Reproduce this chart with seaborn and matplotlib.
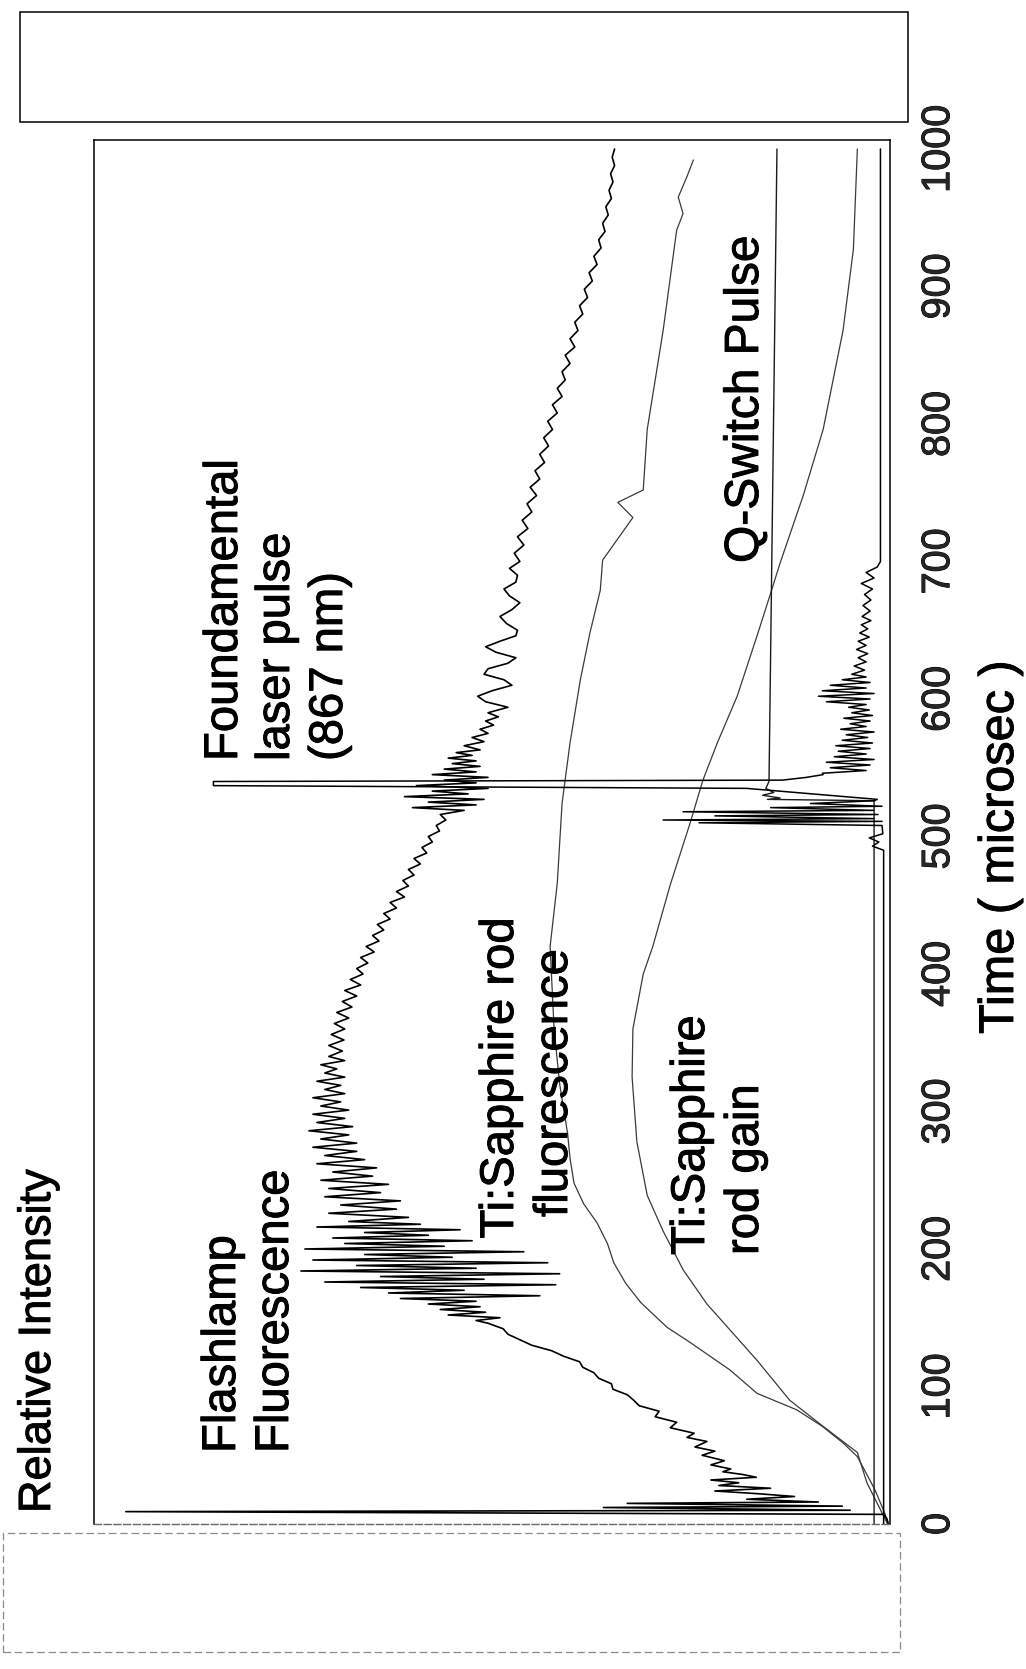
import matplotlib
matplotlib.use("Agg")
import matplotlib.pyplot as plt
import matplotlib.patheffects as pe
from matplotlib.patches import Rectangle
import seaborn as sns

# ---------------------------------------------------------------------------
# Time axis (microseconds) and trace data, intensity in relative units (0-100)
# ---------------------------------------------------------------------------
time_ticks = [0, 100, 200, 300, 400, 500, 600, 700, 800, 900, 1000]

flash_time = [
    0, 4, 7, 9, 10, 12, 13, 15, 16, 18, 20, 22, 24, 26, 28, 30, 32, 34, 36, 38,
    40, 43, 46, 50, 53, 56, 60, 63, 66, 70, 74, 78, 82, 86, 90, 94, 98, 102, 106,
    110, 114, 118, 122, 126, 130, 134, 138, 142, 146, 148, 150, 152, 154, 156,
    158, 160, 162, 164, 166, 168, 170, 172, 174, 176, 178, 180, 182, 184, 186,
    188, 190, 192, 194, 196, 198, 200, 202, 204, 206, 208, 210, 212, 214, 216,
    218, 220, 223, 226, 229, 232, 235, 238, 241, 244, 247, 250, 253, 256, 259,
    262, 265, 268, 271, 274, 277, 280, 283, 286, 289, 292, 295, 298, 301, 304,
    307, 310, 313, 316, 319, 322, 325, 328, 331, 334, 337, 340, 344, 348, 352,
    356, 360, 364, 368, 372, 376, 380, 384, 388, 392, 396, 400, 404, 408, 412,
    416, 420, 424, 428, 432, 436, 440, 444, 448, 452, 456, 460, 464, 468, 472,
    476, 480, 484, 488, 492, 496, 500, 504, 508, 512, 516, 519, 521, 523, 525,
    527, 529, 531, 533, 535, 537, 539, 541, 543, 545, 547, 549, 551, 553, 555,
    557, 559, 561, 563, 566, 569, 572, 575, 578, 581, 584, 587, 590, 594, 598,
    602, 606, 610, 614, 618, 622, 626, 630, 634, 638, 642, 646, 650, 655, 660,
    665, 670, 675, 680, 685, 690, 695, 700, 706, 712, 718, 724, 730, 736, 742,
    748, 754, 760, 766, 772, 778, 784, 790, 796, 802, 808, 814, 820, 826, 832,
    838, 844, 850, 856, 862, 868, 874, 880, 886, 892, 898, 904, 910, 916, 922,
    928, 934, 940, 946, 952, 958, 964, 970, 976, 982, 988, 994, 1000,
]
flash_intensity = [
    0.2, 0.4, 0.8, 96.0, 5.0, 36.0, 6.0, 33.0, 9.0, 18.0, 12.0, 16.5, 22.0, 15.0,
    21.5, 19.0, 22.5, 16.8, 18.5, 21.0, 20.0, 22.5, 20.8, 23.6, 22.0, 24.5, 23.0,
    25.5, 24.6, 27.6, 26.8, 29.5, 29.0, 31.5, 32.2, 33.0, 34.8, 35.0, 36.6, 37.2,
    38.6, 39.0, 41.0, 42.5, 45.0, 46.5, 48.0, 48.6, 50.5, 52.0, 49.0, 55.5, 50.8,
    56.5, 51.5, 58.0, 52.0, 61.5, 44.0, 63.0, 53.5, 66.5, 42.0, 71.0, 51.0, 64.0,
    41.5, 74.0, 52.0, 67.0, 43.0, 72.5, 55.0, 66.0, 46.0, 73.5, 56.0, 68.5, 52.5,
    70.0, 58.0, 66.0, 54.0, 72.0, 59.0, 68.0, 60.5, 70.5, 62.0, 69.0, 61.5, 71.0,
    64.0, 70.5, 63.0, 71.5, 65.0, 70.0, 64.5, 72.0, 66.0, 71.0, 67.0, 72.5, 67.0,
    71.5, 68.0, 73.0, 67.5, 72.0, 68.5, 72.5, 68.0, 71.5, 69.0, 72.5, 68.5, 71.0,
    69.0, 72.0, 68.5, 71.0, 69.5, 71.5, 68.5, 70.5, 68.8, 70.5, 68.6, 70.2, 68.5,
    69.8, 68.0, 69.5, 67.6, 68.8, 67.0, 68.5, 66.5, 67.8, 66.2, 67.0, 65.6, 66.5,
    64.8, 65.8, 64.2, 65.0, 63.6, 64.4, 62.8, 63.6, 62.0, 62.8, 61.0, 62.0, 60.5,
    61.2, 59.8, 60.5, 59.0, 59.8, 58.2, 58.8, 57.5, 58.0, 56.6, 57.0, 55.8, 56.5,
    53.5, 60.0, 52.0, 58.0, 51.0, 61.0, 53.0, 57.5, 50.5, 59.5, 52.0, 56.0, 50.5,
    57.5, 52.0, 56.0, 51.5, 55.0, 52.0, 55.5, 52.5, 54.5, 51.5, 53.5, 51.0, 52.5,
    50.5, 51.5, 49.8, 50.8, 49.2, 50.5, 48.0, 50.8, 51.8, 50.0, 47.5, 48.5, 51.0,
    50.5, 48.0, 47.0, 49.5, 50.8, 49.0, 47.0, 46.8, 48.2, 49.0, 47.5, 46.5, 47.8,
    48.5, 47.0, 46.8, 47.8, 46.5, 47.2, 46.0, 46.8, 45.5, 46.2, 45.0, 45.6, 44.4,
    45.2, 44.0, 44.6, 43.4, 44.0, 42.9, 43.5, 42.4, 43.0, 41.8, 42.4, 41.2, 41.8,
    40.8, 41.2, 40.2, 40.8, 39.6, 40.2, 39.2, 39.6, 38.6, 39.0, 38.0, 38.4, 37.4,
    37.8, 36.8, 37.2, 36.3, 36.6, 35.8, 36.1, 35.4, 35.7, 35.0, 35.3, 34.8, 35.1,
    34.6, 34.9, 34.6,
]

laser_time = [
    0, 490, 493, 496, 499, 502, 508, 510, 511, 512, 513, 515, 516, 518, 519, 521,
    522, 524, 526, 527, 535, 537, 540, 541, 543, 545, 546, 548, 550, 552, 554,
    556, 558, 560, 562, 564, 566, 568, 570, 572, 574, 576, 578, 580, 582, 584,
    586, 588, 590, 592, 594, 596, 598, 600, 602, 604, 606, 608, 610, 612, 614,
    616, 618, 621, 624, 627, 630, 633, 636, 639, 642, 645, 648, 651, 654, 657,
    660, 664, 668, 672, 676, 680, 684, 688, 692, 696, 700, 1000,
]
laser_intensity = [
    0.8, 0.8, 2.2, 1.4, 2.6, 0.9, 1.0, 24.0, 1.0, 28.5, 2.0, 22.0, 1.5, 26.0,
    2.0, 15.0, 1.0, 10.0, 2.0, 1.6, 18.0, 85.0, 85.0, 13.5, 10.5, 8.4, 8.5, 3.0,
    7.5, 2.5, 8.0, 2.0, 7.0, 3.0, 6.5, 2.5, 6.8, 2.2, 6.0, 2.8, 5.5, 2.0, 6.2,
    3.0, 5.0, 2.5, 5.8, 2.2, 4.8, 2.6, 5.2, 3.0, 8.0, 2.5, 9.0, 2.0, 8.5, 3.0,
    7.5, 2.5, 6.0, 3.0, 4.8, 3.2, 4.5, 3.0, 4.0, 2.8, 4.2, 3.0, 4.0, 2.6, 3.8,
    2.8, 3.6, 2.4, 3.5, 2.5, 3.4, 2.4, 3.2, 2.2, 3.6, 2.0, 3.0, 1.6, 1.2, 1.2,
]

qswitch_time = [0, 526, 527, 528, 530, 532, 535, 540, 1000]
qswitch_intensity = [2.0, 2.0, 15.4, 13.8, 16.0, 14.6, 15.6, 15.2, 14.2]

rodfl_time = [
    0, 7, 25, 49, 59, 71, 83, 95, 112, 132, 143, 161, 175, 190, 204, 219, 233,
    248, 266, 284, 320, 360, 420, 466, 524, 568, 614, 648, 679, 701, 732, 743,
    752, 796, 868, 941, 953, 965, 980, 992,
]
rodfl_intensity = [
    0.3, 0.6, 1.9, 4.1, 5.9, 8.5, 11.7, 16.7, 20.1, 25.1, 28.0, 31.3, 33.2,
    34.7, 35.5, 36.8, 38.5, 39.7, 40.2, 40.5, 41.5, 42.2, 42.7, 41.8, 41.2,
    40.2, 38.9, 37.7, 36.4, 36.1, 32.3, 34.2, 31.0, 30.5, 28.5, 26.8, 26.0,
    26.6, 25.5, 24.7,
]

gain_time = [
    0, 30, 52, 71, 90, 119, 160, 185, 213, 239, 278, 325, 360, 400, 420, 465,
    510, 541, 568, 602, 646, 675, 699, 748, 796, 868, 927, 1000,
]
gain_intensity = [
    0.3, 2.9, 4.1, 8.4, 12.6, 16.7, 23.0, 26.0, 28.5, 30.5, 31.8, 32.4, 32.3,
    31.0, 29.8, 27.6, 25.1, 23.5, 21.7, 19.2, 16.7, 15.1, 13.8, 10.9, 8.4, 5.9,
    4.6, 4.1,
]

# ---------------------------------------------------------------------------
sns.set_style("white")
plt.rcParams["font.family"] = ["Liberation Sans", "DejaVu Sans"]

W, H = 1026, 1669
fig = plt.figure(figsize=(W / 100, H / 100), dpi=100)

# plot frame in pixel terms (time runs upward, intensity grows to the left)
ax_left, ax_right, ax_top, ax_bottom = 94, 890, 140, 1524
ax = fig.add_axes([ax_left / W, 1 - ax_bottom / H,
                   (ax_right - ax_left) / W, (ax_bottom - ax_top) / H])

line_kw = dict(ax=ax, orient="y", sort=False, estimator=None, legend=False)
sns.lineplot(x=gain_intensity, y=gain_time, color="#3a3a3a", linewidth=0.9, **line_kw)
sns.lineplot(x=rodfl_intensity, y=rodfl_time, color="#3a3a3a", linewidth=0.9, **line_kw)
sns.lineplot(x=qswitch_intensity, y=qswitch_time, color="#1a1a1a", linewidth=1.0, **line_kw)
sns.lineplot(x=laser_intensity, y=laser_time, color="#000000", linewidth=1.1, **line_kw)
sns.lineplot(x=flash_intensity, y=flash_time, color="#000000", linewidth=1.2, **line_kw)

ax.set_xlim(100, 0)
ax.set_ylim(0, (ax_bottom - ax_top) / 1.375)
ax.set_xticks([])
ax.set_xlabel("")
ax.set_ylabel("")
ax.yaxis.tick_right()
ax.set_yticks(time_ticks)
ax.set_yticklabels([str(t) for t in time_ticks])
ax.tick_params(axis="y", length=0, pad=21, labelsize=28.5, labelrotation=90)
thick = [pe.withStroke(linewidth=0.7, foreground="black")]
for lbl in ax.get_yticklabels():
    lbl.set_verticalalignment("center")
    lbl.set_path_effects(thick)

for side in ["left", "right", "top"]:
    ax.spines[side].set_color("black")
    ax.spines[side].set_linewidth(1.1)
ax.spines["bottom"].set_color("#666666")
ax.spines["bottom"].set_linewidth(1.0)
ax.spines["bottom"].set_linestyle((0, (5, 2)))


def put(x, y, s, size, ha="left"):
    fig.text(x / W, 1 - y / H, s, rotation=90, rotation_mode="anchor",
             ha=ha, va="baseline", fontsize=size, color="black",
             path_effects=thick)


put(50, 1513, "Relative Intensity", 32.5)
put(1013, 847, "Time ( microsec )", 35, ha="center")

put(235, 1453, "Flashlamp", 34)
put(288, 1453, "Fluorescence", 34)
put(237, 761, "Foundamental", 34)
put(289, 761, "laser pulse", 34)
put(342, 761, "(867 nm)", 34)
put(513, 1078, "Ti:Sapphire rod", 34, ha="center")
put(567, 1083, "fluorescence", 34, ha="center")
put(704, 1255, "Ti:Sapphire", 34)
put(758, 1255, "rod gain", 34)
put(758, 563, "Q-Switch Pulse", 34.5)

# empty boxes above and below the plot
fig.patches.append(Rectangle((20 / W, 1 - 122 / H), (908 - 20) / W, (122 - 12) / H,
                             transform=fig.transFigure, fill=False,
                             edgecolor="black", linewidth=1.1))
fig.patches.append(Rectangle((3 / W, 1 - 1652 / H), (900 - 3) / W, (1652 - 1533) / H,
                             transform=fig.transFigure, fill=False,
                             edgecolor="#8a8a8a", linewidth=0.9,
                             linestyle=(0, (6, 3))))

fig.savefig("out.png", dpi=100)
